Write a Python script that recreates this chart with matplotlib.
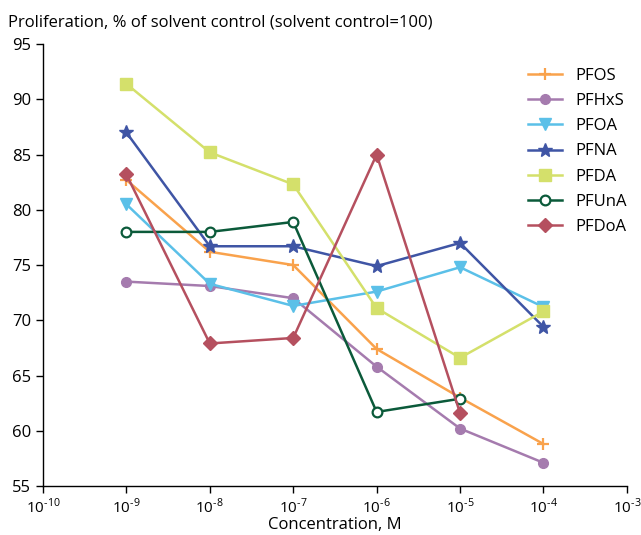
import math
import matplotlib
matplotlib.use('Agg')
import matplotlib.pyplot as plt
import matplotlib.ticker as mticker

conc = [1e-9, 1e-8, 1e-7, 1e-6, 1e-5, 1e-4]

pfos = [82.7, 76.2, 75.0, 67.4, 63.0, 58.8]
pfhxs = [73.5, 73.1, 72.0, 65.8, 60.2, 57.1]
pfoa = [80.5, 73.3, 71.3, 72.6, 74.8, 71.2]
pfna = [87.0, 76.7, 76.7, 74.9, 77.0, 69.4]
pfda = [91.4, 85.2, 82.3, 71.1, 66.6, 70.8]
pfuna = [78.0, 78.0, 78.9, 61.7, 62.9]
pfdoa = [83.2, 67.9, 68.4, 85.0, 61.6]

plt.rcParams['font.family'] = ['Open Sans', 'DejaVu Sans']
plt.rcParams['mathtext.fontset'] = 'custom'
plt.rcParams['mathtext.rm'] = 'Open Sans'

fig = plt.figure(figsize=(6.41, 5.35), dpi=100)
ax = fig.add_axes([0.067, 0.0916, 0.911, 0.826])

lw = 1.8
ax.plot(conc, pfos, color='#F9A24C', marker='+', ms=9, mew=1.6, lw=lw, label='PFOS')
ax.plot(conc, pfhxs, color='#A57BAE', marker='o', ms=7, lw=lw, label='PFHxS')
ax.plot(conc, pfoa, color='#5BC0E8', marker='v', ms=8, lw=lw, label='PFOA')
ax.plot(conc, pfna, color='#3F55A5', marker='*', ms=10, lw=lw, label='PFNA')
ax.plot(conc, pfda, color='#D4E06B', marker='s', ms=8, lw=lw, label='PFDA')
ax.plot(conc[:5], pfuna, color='#0B5A3A', marker='o', ms=7, mfc='white', mew=1.6, lw=lw, label='PFUnA')
ax.plot(conc[:5], pfdoa, color='#B5505F', marker='D', ms=7, lw=lw, label='PFDoA')

ax.set_xscale('log')
ax.set_xlim(1e-10, 1e-3)
ax.set_ylim(55, 95)
ax.set_yticks(range(55, 96, 5))
ax.xaxis.set_major_locator(mticker.LogLocator(base=10, numticks=10))
ax.xaxis.set_minor_locator(mticker.NullLocator())
# hyphen instead of the wide minus sign
ax.xaxis.set_major_formatter(mticker.FuncFormatter(
    lambda v, p: '10$^{\u2010%d}$' % abs(round(math.log10(v)))))

for s in ['top', 'right']:
    ax.spines[s].set_visible(False)
ax.tick_params(labelsize=12, length=5, width=1)
ax.tick_params(axis='x', labelsize=11)
ax.spines['left'].set_linewidth(1)
ax.spines['bottom'].set_linewidth(1)

ax.set_xlabel('Concentration, M', fontsize=12, labelpad=0)
fig.text(0.012, 0.958, 'Proliferation, % of solvent control (solvent control=100)', fontsize=12, va='center')

ax.legend(loc='upper right', frameon=False, fontsize=12, handlelength=2.0, labelspacing=0.55,
          bbox_to_anchor=(1.025, 0.98))

fig.savefig('out.png', dpi=100)
